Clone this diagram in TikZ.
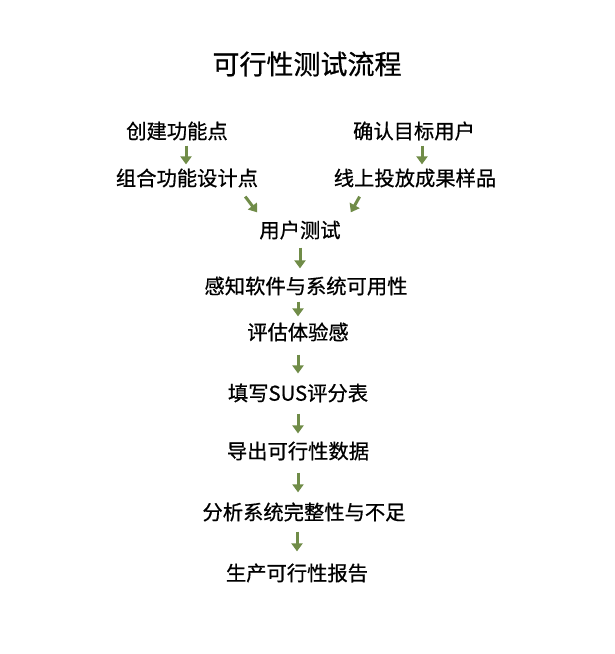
\documentclass[tikz,border=0pt]{standalone}
\usepackage{fontspec}
\setmainfont{Noto Sans CJK SC}
\newfontfamily\cjkmed{Noto Sans CJK SC}[FakeBold=0.7]
\usetikzlibrary{arrows.meta,calc}
\definecolor{leafgreen}{RGB}{112,140,72}

\begin{document}
\begin{tikzpicture}[x=1pt,y=-1pt,
    stage/.style={font=\cjkmed\fontsize{20.3}{20.3}\selectfont, inner sep=0pt},
    flow/.style={draw=leafgreen, line width=3pt, -{Triangle[width=11pt,length=8pt]}}]
            \fill[white] (0,0) rectangle (614,654);
            \useasboundingbox (0,0) rectangle (614,654);
            % title
            \node[inner sep=0pt, font=\cjkmed\fontsize{27}{27}\selectfont] (title) at (307,64) {可行性测试流程};
            % two branches
            \node[stage] (create) at (177,131) {创建功能点};
            \node[stage] (combine) at (187,178) {组合功能设计点};
            \node[stage] (confirm) at (414,131) {确认目标用户};
            \node[stage] (launch) at (415,178) {线上投放成果样品};
            % main chain
            \node[stage] (usertest) at (300,230) {用户测试};
            \node[stage] (perceive) at (306,286) {感知软件与系统可用性};
            \node[stage] (assess) at (298,332) {评估体验感};
            \node[stage] (sus) at (298,393) {填写SUS评分表};
            \node[stage] (export) at (298,451) {导出可行性数据};
            \node[stage] (analyse) at (304,512) {分析系统完整性与不足};
            \node[stage] (report) at (297,573) {生产可行性报告};
            % arrows
            \draw[flow] ($(create.south)+(9,5)$) -- ($(combine.north -| create.south)+(9,-4)$);
            \draw[flow] ($(confirm.south)+(8,5)$) -- ($(launch.north)+(7,-4)$);
            \draw[flow] ($(combine.south east)+(-13,9)$) -- ($(usertest.north west)+(-2,-8)$);
            \draw[flow] ($(launch.south west)+(26,9)$) -- ($(usertest.north east)+(10,-8)$);
            \draw[flow] ($(usertest.south)+(0,8)$) -- ($(perceive.north -| usertest.south)+(0,-8)$);
            \draw[flow] ($(perceive.south -| assess.north)+(0,6)$) -- ($(assess.north)+(0,-6)$);
            \draw[flow] ($(assess.south)+(0,13)$) -- ($(sus.north)+(0,-10)$);
            \draw[flow] ($(sus.south)+(0,11)$) -- ($(export.north)+(0,-8)$);
            \draw[flow] ($(export.south)+(0,12)$) -- ($(analyse.north -| export.south)+(0,-10)$);
            \draw[flow] ($(analyse.south -| report.north)+(0,10)$) -- ($(report.north)+(0,-12)$);
        \end{tikzpicture}
\end{document}
